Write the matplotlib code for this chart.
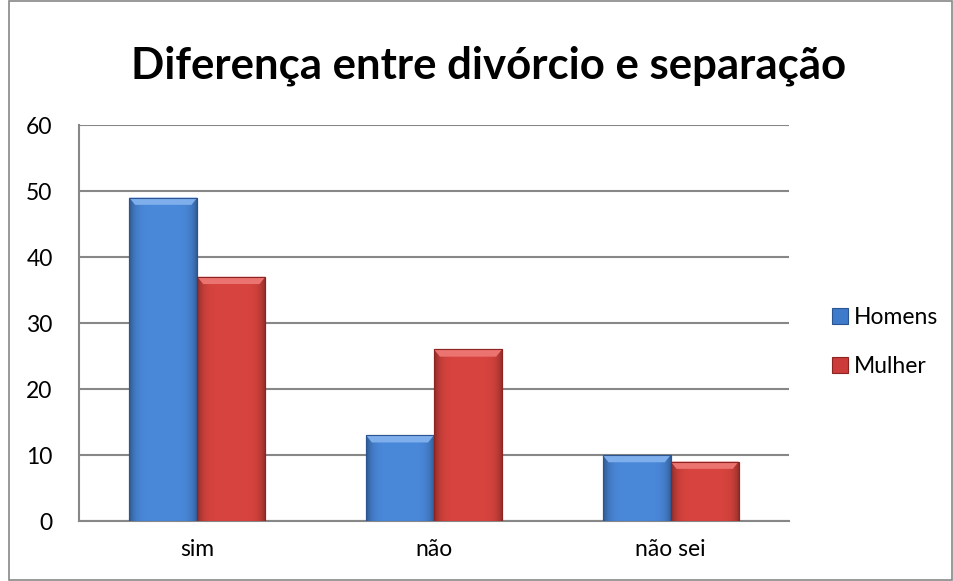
import matplotlib.pyplot as plt
import numpy as np
from matplotlib.patches import Rectangle, Polygon
from matplotlib.colors import to_rgb

categories = ['sim', 'não', 'não sei']
homens = [49, 13, 10]
mulher = [37, 26, 9]
series_names = ['Homens', 'Mulher']
y_ticks = [0, 10, 20, 30, 40, 50, 60]

plt.rcParams['font.family'] = ['Lato', 'DejaVu Sans']

fig = plt.figure(figsize=(9.54, 5.81), dpi=100)
ax = fig.add_axes([79 / 954, 1 - 521 / 581, 710 / 954, 396 / 581])

x = np.arange(len(categories))
w = 0.2875
b1 = ax.bar(x - w / 2, homens, w, color='#3F7BCB', edgecolor='#2B5590', linewidth=0.8,
            label=series_names[0], zorder=3)
b2 = ax.bar(x + w / 2, mulher, w, color='#CC3C3A', edgecolor='#8C2422', linewidth=0.8,
            label=series_names[1], zorder=3)

# fake the Excel bevel: horizontal shading plus a lighter top edge
prof = np.linspace(-1, 1, 60)
shade = 1 - 0.35 * prof ** 6
for bars, mid, light in ((b1, '#4A88DA', '#7EAEEB'), (b2, '#D8443F', '#EC7470')):
    c = np.array(to_rgb(mid))
    img = (c[None, :] * shade[:, None])[None, :, :]
    for r in bars:
        x0, h, bw = r.get_x(), r.get_height(), r.get_width()
        im = ax.imshow(img, extent=(x0, x0 + bw, 0, h), aspect='auto', zorder=3.5,
                       interpolation='bilinear')
        im.set_clip_path(r)
        d = 1.1
        ax.add_patch(Polygon([(x0, h), (x0 + bw, h), (x0 + bw - 0.025, h - d),
                              (x0 + 0.025, h - d)], closed=True, color=light,
                             linewidth=0, zorder=4))
        ax.add_patch(Rectangle((x0, 0), bw, h, fill=False, edgecolor=r.get_edgecolor(),
                               linewidth=0.8, zorder=4.5))

ax.set_xlim(-0.5, 2.5)
ax.set_ylim(0, 60)
ax.set_yticks(y_ticks)
ax.set_xticks(x)
ax.set_xticklabels(categories)
ax.tick_params(axis='both', labelsize=16.5, length=0)
ax.tick_params(axis='y', pad=19)
ax.tick_params(axis='x', pad=13)
ax.yaxis.grid(True, color='#878787', linewidth=1.5, zorder=0)
for s in ('top', 'right'):
    ax.spines[s].set_visible(False)
ax.spines['left'].set_color('#878787')
ax.spines['left'].set_linewidth(1.5)
ax.spines['bottom'].set_color('#878787')
ax.spines['bottom'].set_linewidth(1.5)

fig.text(489 / 954, 1 - 78 / 581, 'Diferença entre divórcio e separação',
         ha='center', va='baseline', fontsize=31.5, fontweight='bold')

ax.legend(loc='center left', bbox_to_anchor=(832 / 954, 1 - 342 / 581),
          bbox_transform=fig.transFigure, frameon=False, fontsize=16.5,
          handlelength=0.7, handleheight=0.7, handletextpad=0.25, labelspacing=1.2,
          borderpad=0, borderaxespad=0)

fig.add_artist(Rectangle((9 / 954, 0.002), 943 / 954, 0.996, transform=fig.transFigure,
                         fill=False, edgecolor='#878787', linewidth=1.2))

fig.savefig('out.png', dpi=100)
